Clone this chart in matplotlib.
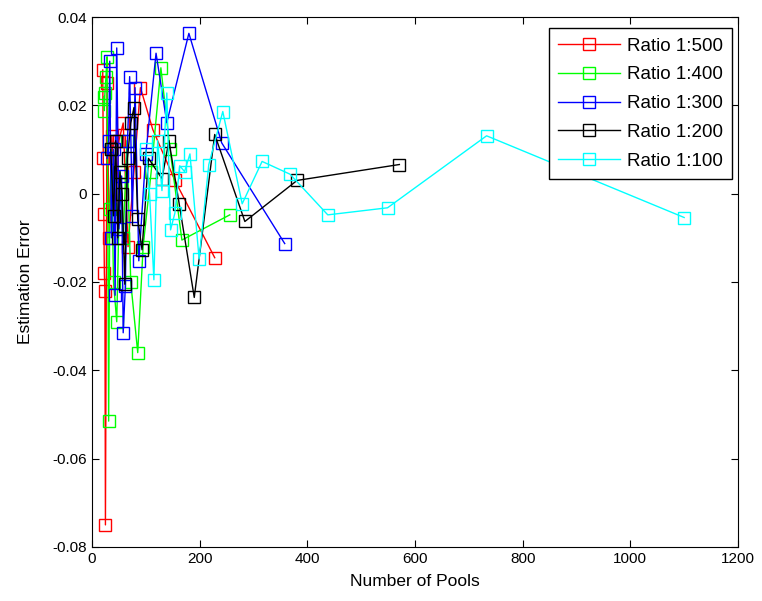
import matplotlib
matplotlib.use('Agg')
import matplotlib.pyplot as plt
from matplotlib.ticker import FuncFormatter

plt.rcParams['font.family'] = 'Liberation Sans'

# estimation error vs number of pools, one series per dilution ratio
x_500 = [20, 21, 22, 23, 24, 25, 28, 32, 37, 43, 50, 58, 67, 78, 90, 113, 154, 228]
y_500 = [0.028, 0.008, -0.0045, -0.018, -0.022, -0.075, 0.025, -0.01, 0.013, -0.005,
         0.012, 0.016, -0.012, 0.005, 0.024, 0.0145, 0.003, -0.0145]

x_400 = [22, 23, 24, 26, 28, 31, 33, 36, 40, 46, 52, 58, 65, 72, 85, 95, 110, 128, 145, 167, 256]
y_400 = [0.022, 0.0188, 0.0227, 0.0265, 0.031, -0.0515, -0.0035, 0.01, -0.02, -0.029,
         0.005, -0.01, 0.012, -0.02, -0.036, -0.012, 0.005, 0.0285, 0.01, -0.0105, -0.0048]

x_300 = [28, 31, 33, 36, 40, 43, 46, 50, 55, 58, 62, 66, 70, 75, 80, 87, 100, 119, 139, 180, 241, 358]
y_300 = [0.008, 0.012, 0.030, -0.01, 0.01, -0.023, 0.033, -0.008, 0.004, -0.0315, -0.021,
         0.012, 0.0265, -0.005, 0.024, -0.0152, 0.009, 0.0318, 0.0161, 0.0363, 0.0115, -0.0113]

x_200 = [35, 40, 44, 48, 52, 56, 61, 66, 72, 78, 85, 93, 105, 130, 143, 162, 190, 228, 284, 381, 571]
y_200 = [0.01, -0.005, 0.012, -0.01, 0.005, 0.0, -0.0205, 0.008, 0.016, 0.0195, -0.0057,
         -0.0127, 0.008, 0.0034, 0.012, -0.0023, -0.0235, 0.0134, -0.0063, 0.003, 0.0066]

x_100 = [100, 107, 115, 122, 130, 139, 146, 154, 163, 172, 182, 199, 217, 243, 279, 316,
         368, 438, 549, 733, 1100]
y_100 = [0.01, 0.0, -0.0195, 0.012, 0.0007, 0.0228, -0.0082, -0.0044, 0.0063, 0.005, 0.009,
         -0.0148, 0.0066, 0.0186, -0.0023, 0.0073, 0.0044, -0.0048, -0.0032, 0.0131, -0.0054]

series = [(x_500, y_500, (1, 0, 0), 'Ratio 1:500'),
          (x_400, y_400, (0, 1, 0), 'Ratio 1:400'),
          (x_300, y_300, (0, 0, 1), 'Ratio 1:300'),
          (x_200, y_200, (0, 0, 0), 'Ratio 1:200'),
          (x_100, y_100, (0, 1, 1), 'Ratio 1:100')]

fig = plt.figure(figsize=(7.62, 6.01), dpi=100)
ax = fig.add_axes([0.1207, 0.0899, 0.8478, 0.8818])

for xs, ys, col, lab in series:
    ax.plot(xs, ys, '-s', color=col, lw=1, markersize=8.5, markerfacecolor='none',
            markeredgecolor=col, markeredgewidth=1, label=lab)

ax.set_xlim(0, 1200)
ax.set_ylim(-0.08, 0.04)
ax.set_xticks(range(0, 1201, 200))
ax.set_yticks([-0.08, -0.06, -0.04, -0.02, 0, 0.02, 0.04])
ax.yaxis.set_major_formatter(FuncFormatter(lambda v, p: '0' if abs(v) < 1e-9 else '%g' % v))
ax.tick_params(direction='in', top=True, right=True, labelsize=11, length=5)
ax.set_xlabel('Number of Pools', fontsize=12.5, labelpad=6)
ax.set_ylabel('Estimation Error', fontsize=12.5, labelpad=14)

leg = ax.legend(loc='upper right', bbox_to_anchor=(0.9907, 0.979), fontsize=13.5,
                fancybox=False, edgecolor='k', framealpha=1, borderaxespad=0,
                handlelength=3.3, handletextpad=0.35, labelspacing=0.62, borderpad=0.5)
leg.get_frame().set_linewidth(1)

fig.savefig('out.png', dpi=100)
